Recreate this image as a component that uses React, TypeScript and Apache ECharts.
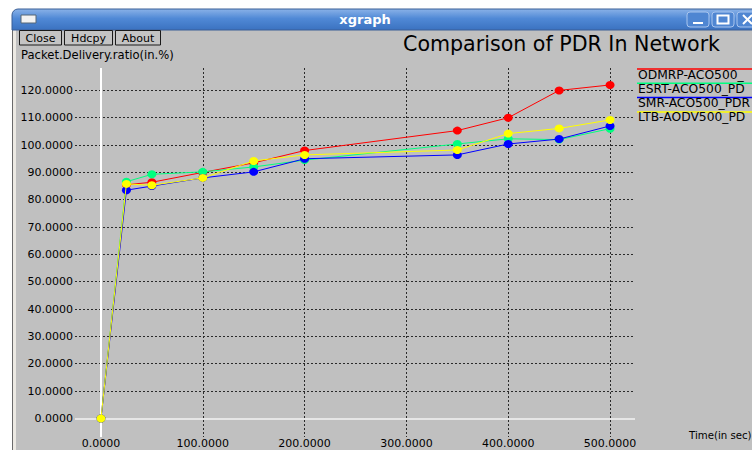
import React, { useEffect, useRef } from 'react';
import * as echarts from 'echarts';

const times = [0, 25, 50, 100, 150, 200, 350, 400, 450, 500];
const odmrp = [0, 85.5, 86.4, 90, 93.5, 98, 105.3, 110, 120, 122];
const esrt = [0, 86.6, 89.3, 90.2, 92, 94.5, 100.4, 102.3, 102, 106];
const smr = [0, 83.5, 85, 88, 90.2, 95, 96.4, 100.4, 102.2, 107];
const ltb = [0, 85.8, 85.3, 88, 94.2, 96.4, 98.2, 104.2, 106.1, 109.2];
const seriesNames = ['ODMRP-ACO500_PDR', 'ESRT-ACO500_PDR', 'SMR-ACO500_PDR', 'LTB-AODV500_PDR'];
const seriesColors = ['#ff0000', '#00ff7f', '#0000ff', '#ffff00'];
const xTicks = [0, 100, 200, 300, 400, 500];
const yTicks = [0, 10, 20, 30, 40, 50, 60, 70, 80, 90, 100, 110, 120];
const buttons = ['Close', 'Hdcpy', 'About'];

const FONT = 'DejaVu Sans';

export default function App() {
  const ref = useRef<HTMLDivElement>(null);
  useEffect(() => {
    if (!ref.current) return;
    const chart = echarts.init(ref.current, undefined, { renderer: 'svg' });
    const allData = [odmrp, esrt, smr, ltb];

    const btnX = [19, 64, 115];
    const btnW = [42, 48, 45];
    const graphic: any[] = [
      { type: 'rect', shape: { x: 0, y: 0, width: 752, height: 30 }, style: { fill: '#ffffff' }, silent: true },
      { type: 'rect', shape: { x: 0, y: 0, width: 12, height: 450 }, style: { fill: '#ffffff' }, silent: true },
      { type: 'rect', shape: { x: 12, y: 30, width: 1, height: 420 }, style: { fill: '#6a6a6a' }, silent: true },
      { type: 'rect', shape: { x: 13, y: 30, width: 3, height: 420 }, style: { fill: '#ece9e3' }, silent: true },
      {
        type: 'rect',
        shape: { x: 12, y: 9, width: 760, height: 21, r: [6, 6, 0, 0] },
        style: {
          fill: new echarts.graphic.LinearGradient(0, 0, 0, 1, [
            { offset: 0, color: '#8ab2e8' },
            { offset: 0.45, color: '#5089d6' },
            { offset: 1, color: '#3b72c0' },
          ]),
          stroke: '#3a5f96',
          lineWidth: 1,
        },
        silent: true,
      },
      { type: 'rect', shape: { x: 21, y: 15, width: 15, height: 8 }, style: { fill: '#f2f2f2', stroke: '#556677', lineWidth: 1 }, silent: true },
      {
        type: 'text', x: 365, y: 19,
        style: { text: 'xgraph', fill: '#ffffff', font: `bold 13px ${FONT}`, align: 'center', verticalAlign: 'middle' },
        silent: true,
      },
    ];
    // window controls
    [687, 712, 737].forEach((bx) => {
      graphic.push({
        type: 'rect', shape: { x: bx, y: 12, width: 22, height: 15, r: 3 },
        style: { fill: '#4f86d2', stroke: '#a9c5ee', lineWidth: 1 }, silent: true,
      });
    });
    graphic.push({ type: 'rect', shape: { x: 693, y: 22, width: 10, height: 2 }, style: { fill: '#ffffff' }, silent: true });
    graphic.push({ type: 'rect', shape: { x: 717.5, y: 15.5, width: 11, height: 8 }, style: { fill: 'none', stroke: '#ffffff', lineWidth: 2 }, silent: true });
    graphic.push({ type: 'line', shape: { x1: 743, y1: 15, x2: 752, y2: 24 }, style: { stroke: '#ffffff', lineWidth: 2 }, silent: true });
    graphic.push({ type: 'line', shape: { x1: 743, y1: 24, x2: 752, y2: 15 }, style: { stroke: '#ffffff', lineWidth: 2 }, silent: true });

    buttons.forEach((b, i) => {
      graphic.push({
        type: 'rect', shape: { x: btnX[i] + 0.5, y: 30.5, width: btnW[i], height: 14.5 },
        style: { fill: '#c4c4c4', stroke: '#1a1a1a', lineWidth: 1 }, silent: true,
      });
      graphic.push({
        type: 'text', x: btnX[i] + 0.5 + btnW[i] / 2, y: 38,
        style: { text: b, fill: '#000000', font: `11px ${FONT}`, align: 'center', verticalAlign: 'middle' }, silent: true,
      });
    });
    graphic.push({
      type: 'text', x: 21, y: 55,
      style: { text: 'Packet.Delivery.ratio(in.%)', fill: '#000000', font: `11.6px ${FONT}`, align: 'left', verticalAlign: 'middle' }, silent: true,
    });
    graphic.push({
      type: 'text', x: 403, y: 44,
      style: { text: 'Comparison of PDR In Network', fill: '#000000', font: `20.6px ${FONT}`, align: 'left', verticalAlign: 'middle' }, silent: true,
    });
    seriesNames.forEach((n, i) => {
      const ly = 69 + i * 14.3;
      graphic.push({ type: 'line', shape: { x1: 637, y1: ly, x2: 752, y2: ly }, style: { stroke: seriesColors[i], lineWidth: 1.5 }, silent: true });
      graphic.push({
        type: 'text', x: 638, y: ly + 5.5,
        style: {
          text: n, fill: '#000000', font: `12.3px ${FONT}`, align: 'left', verticalAlign: 'middle',
          width: 114, overflow: 'truncate', ellipsis: '',
        },
        silent: true,
      });
    });
    graphic.push({
      type: 'text', x: 689, y: 435,
      style: { text: 'Time(in sec)', fill: '#000000', font: `10.2px ${FONT}`, align: 'left', verticalAlign: 'middle' },
      silent: true,
    });

    chart.setOption({
      animation: false,
      backgroundColor: '#c0c0c0',
      grid: { left: 75, right: 117, top: 68, bottom: 13, containLabel: false, outerBoundsMode: 'none' },
      xAxis: {
        type: 'value', min: -25.5, max: 524.5,
        axisLine: { show: false, onZero: false },
        axisTick: { show: false, customValues: xTicks },
        axisLabel: {
          customValues: xTicks, formatter: (v: number) => v.toFixed(4), margin: 1,
          color: '#000000', fontSize: 11, fontFamily: FONT,
        },
        splitLine: { show: true, lineStyle: { color: '#2a2a2a', type: [2, 2], width: 1 } },
      },
      yAxis: {
        type: 'value', min: -6.8, max: 128.2,
        axisLine: { show: false, onZero: false },
        axisTick: { show: false, customValues: yTicks },
        axisLabel: {
          customValues: yTicks, formatter: (v: number) => v.toFixed(4), margin: 2,
          color: '#000000', fontSize: 11, fontFamily: FONT,
        },
        splitLine: { show: true, lineStyle: { color: '#2a2a2a', type: [2, 2], width: 1 } },
      },
      series: allData.map((d, i) => ({
        type: 'line', name: seriesNames[i],
        data: times.map((t, j) => [t, d[j]]),
        symbol: 'circle', symbolSize: [9, 8], showSymbol: true,
        lineStyle: { color: seriesColors[i], width: 1 },
        itemStyle: { color: seriesColors[i] },
        z: 3 + i,
        markLine: i === 0 ? {
          silent: true,
          symbol: ['none', 'none'],
          label: { show: false },
          lineStyle: { color: '#ffffff', type: 'solid', width: 2 },
          data: [
            { xAxis: 0 },
            { yAxis: 0, lineStyle: { color: '#e6e6e6', type: 'solid', width: 2 } },
          ],
        } : undefined,
      })),
      graphic,
    });
    return () => chart.dispose();
  }, []);
  return <div ref={ref} style={{ position: 'absolute', left: 0, top: 0, width: 752, height: 450 }} />;
}
